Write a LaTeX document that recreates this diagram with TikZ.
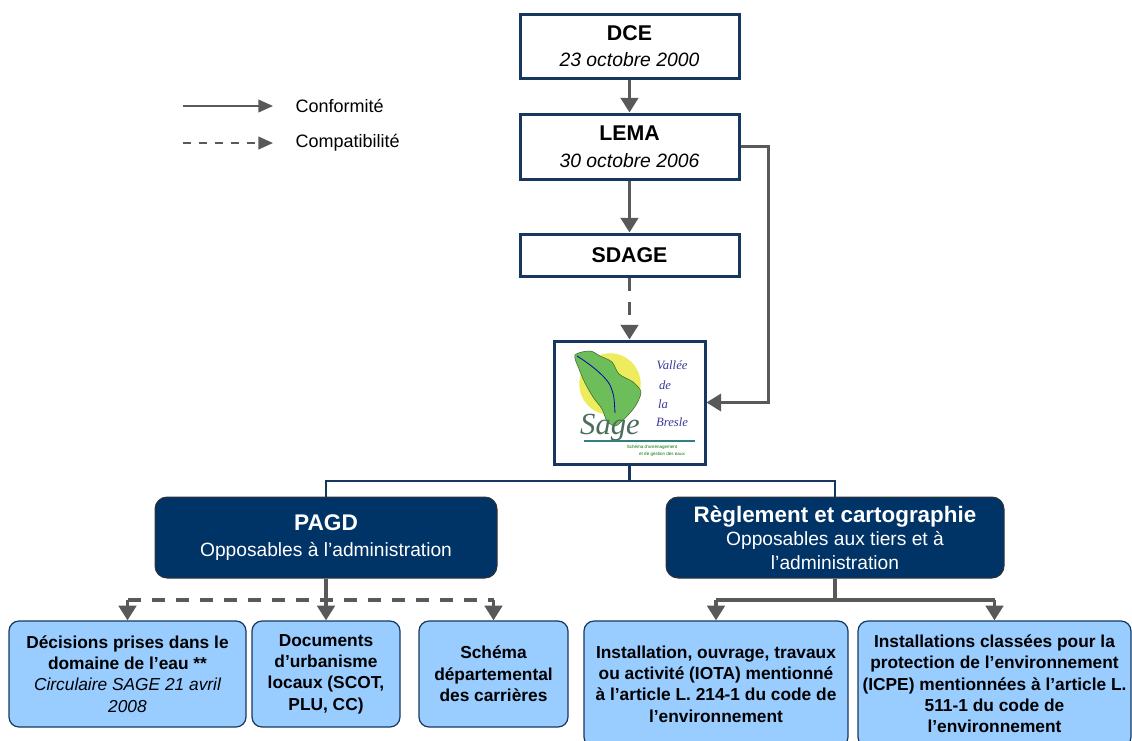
\documentclass[tikz,border=0pt]{standalone}
\usepackage{fontspec}
\setmainfont{Liberation Sans}
\newfontfamily\logofont{Liberation Serif}
\usepackage{tikz}
\usetikzlibrary{arrows.meta}

\definecolor{navy}{HTML}{003366}
\definecolor{boxline}{HTML}{17375E}
\definecolor{arrowgrey}{HTML}{595959}
\definecolor{paleblue}{HTML}{99CCFF}
\definecolor{mapgreen}{HTML}{6DBE5A}
\definecolor{sunyellow}{HTML}{ECEC5C}
\definecolor{logoblue}{HTML}{3A3A9A}
\definecolor{sagegrey}{HTML}{4C6C5C}

\begin{document}
\begin{tikzpicture}[x=0.75pt,y=-0.75pt,
  topbox/.style={draw=boxline,line width=2.25pt,fill=white,minimum width=164.25pt,
    align=center,font=\fontsize{14.5}{20}\selectfont},
  darkbox/.style={draw=black!80,line width=0.75pt,fill=navy,text=white,rounded corners=9pt,
    minimum height=60.75pt,align=center},
  leafbox/.style={draw=boxline,line width=0.9pt,fill=paleblue,rounded corners=7.5pt,
    align=center,font=\bfseries\fontsize{13}{16}\selectfont},
  conform/.style={arrowgrey,line width=2.6pt,-{Triangle[length=11pt,width=13pt]}},
  compat/.style={conform,dash pattern=on 10pt off 8pt},
  greyline/.style={arrowgrey,line width=2.6pt},
  link/.style={boxline,line width=2pt}]
  \useasboundingbox (0,0) rectangle (1132,740);
  \clip (0,0) rectangle (1132,740);

  % legend
  \coordinate (la) at (183,106);
  \coordinate (lb) at (273,106);
  \coordinate (lc) at (183,143);
  \coordinate (ld) at (273,143);
  \draw[conform,line width=1.5pt,-{Triangle[length=11pt,width=9.5pt]}] (la) -- (lb);
  \draw[conform,line width=1.5pt,dash pattern=on 6pt off 6pt,-{Triangle[length=11pt,width=9.5pt]}] (lc) -- (ld);
  \node[anchor=west,font=\fontsize{13.5}{16}\selectfont] (conf) at (291,106) {Conformité};
  \node[anchor=west,font=\fontsize{13.5}{16}\selectfont] (compa) at (291,143) {Compatibilité};

  % upper chain
  \node[topbox,minimum height=48pt] (dce) at (629.5,46)
    {{\bfseries\fontsize{16}{20}\selectfont DCE}\\\itshape 23 octobre 2000};
  \node[topbox,minimum height=48.75pt] (lema) at (629.5,146.5)
    {{\bfseries\fontsize{16}{20}\selectfont LEMA}\\\itshape 30 octobre 2006};
  \node[topbox,minimum height=31.5pt,font=\bfseries\fontsize{16}{20}\selectfont] (sdage) at (629.5,255) {SDAGE};
  \node[draw=boxline,line width=2.25pt,fill=white,minimum width=113.25pt,minimum height=92.25pt] (logo) at (629.5,402.5) {};

  % logo
  \fill[sunyellow] (610,384) circle (23pt);
  \filldraw[fill=mapgreen,draw=mapgreen!55!black,line width=0.4pt]
    plot[smooth cycle] coordinates {(575,355) (590,351) (600,356) (612,362) (619,374) (633,382) (641,392)
      (636,405) (629,414) (622,421) (615,426) (607,421) (602,409) (593,397) (585,383) (579,369)};
  \draw[blue!70!black,line width=0.6pt] (577,356) .. controls (596,368) and (606,378) .. (610,385)
    .. controls (614,395) .. (615,413);
  \node[font=\logofont\itshape\fontsize{9.5}{10}\selectfont,text=logoblue] (vallee) at (672,365) {Vallée};
  \node[font=\logofont\itshape\fontsize{9.5}{10}\selectfont,text=logoblue] (de) at (665,385) {de};
  \node[font=\logofont\itshape\fontsize{9.5}{10}\selectfont,text=logoblue] (la) at (663,404) {la};
  \node[font=\logofont\itshape\fontsize{9.5}{10}\selectfont,text=logoblue] (bresle) at (672,422) {Bresle};
  \node[font=\logofont\itshape\fontsize{23}{23}\selectfont,text=sagegrey] (sage) at (610,428) {Sage};
  \draw[teal!60!gray,line width=0.8pt] (584,441) -- (695,441);
  \node[font=\fontsize{3.4}{4}\selectfont,text=green!45!black] (schema) at (652,447) {Schéma d'aménagement};
  \node[font=\fontsize{3.4}{4}\selectfont,text=green!45!black] (gestion) at (662,454) {et de gestion des eaux};

  % SAGE documents
  \node[darkbox,minimum width=256.5pt,font=\fontsize{14.4}{19.5}\selectfont] (pagd) at (326,537.5)
    {{\bfseries\fontsize{17}{19.5}\selectfont PAGD}\\Opposables à l'administration};
  \node[darkbox,minimum width=253.5pt,font=\fontsize{14.4}{17.6}\selectfont] (regl) at (835,537.5)
    {{\bfseries\fontsize{16.8}{17.6}\selectfont Règlement et cartographie}\\Opposables aux tiers et à\\l'administration};

  % leaves
  \node[leafbox,minimum width=177.75pt,minimum height=79.5pt] (decis) at (127.5,674)
    {Décisions prises dans le\\domaine de l'eau **\\{\mdseries\itshape Circulaire SAGE 21 avril}\\{\mdseries\itshape 2008}};
  \node[leafbox,minimum width=111pt,minimum height=79.5pt] (urba) at (326,674)
    {Documents\\d'urbanisme\\locaux (SCOT,\\PLU, CC)};
  \node[leafbox,minimum width=111.75pt,minimum height=79.5pt] (carr) at (493.5,674)
    {Schéma\\départemental\\des carrières};
  \node[leafbox,minimum width=198pt,minimum height=94.5pt] (iota) at (716,684)
    {Installation, ouvrage, travaux\\ou activité (IOTA) mentionné\\à l'article L. 214-1 du code de\\l'environnement};
  \node[leafbox,minimum width=204.75pt,minimum height=94.5pt,inner xsep=1pt] (icpe) at (994.5,684)
    {Installations classées pour la\\protection de l'environnement\\(ICPE) mentionnées à l'article L.\\511-1 du code de\\l'environnement};

  % connectors
  \draw[conform] (dce) -- (lema);
  \draw[conform] (lema) -- (sdage);
  \draw[compat] (sdage) -- (logo);
  \draw[conform,line width=2.2pt] (lema.east) -- ++(28,0) |- (logo.east);

  \coordinate (split) at (629.5,481);
  \draw[link] (logo.south) -- (split);
  \draw[link] (pagd.north) |- (split) -| (regl.north);

  \coordinate (pj) at (326,600);
  \draw[greyline,dash pattern=on 10pt off 8pt] (decis.north |- pj) -- (carr.north |- pj);
  \draw[conform] (pagd.south) -- (urba.north);
  \draw[conform] (decis.north |- pj) -- (decis.north);
  \draw[conform] (carr.north |- pj) -- (carr.north);

  \coordinate (rj) at (835,600);
  \draw[greyline] (regl.south) -- (rj);
  \draw[greyline] (iota.north |- rj) -- (icpe.north |- rj);
  \draw[conform] (iota.north |- rj) -- (iota.north);
  \draw[conform] (icpe.north |- rj) -- (icpe.north);
\end{tikzpicture}
\end{document}
